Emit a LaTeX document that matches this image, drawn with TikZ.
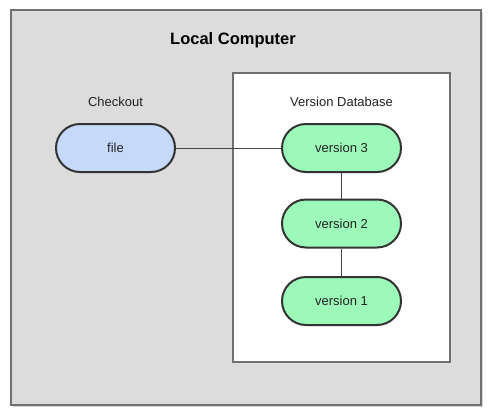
\documentclass[tikz,border=0pt]{standalone}
\usepackage{fontspec}
\setmainfont{Liberation Sans}
\definecolor{bggray}{HTML}{DCDCDC}
\definecolor{boxedge}{HTML}{707070}
\definecolor{nodeedge}{HTML}{333333}
\definecolor{fileblue}{HTML}{C6D9FB}
\definecolor{vgreen}{HTML}{9CF9B9}
\definecolor{txt}{HTML}{222222}
\tikzset{
  pill/.style={draw=nodeedge, line width=2pt, rounded corners=24pt,
    minimum width=119pt, minimum height=48pt, inner sep=0pt,
    font=\fontsize{13}{15}\selectfont, text=txt},
  lbl/.style={font=\fontsize{13}{15}\selectfont, text=txt, inner sep=0pt},
  link/.style={draw=nodeedge!90, line width=0.9pt}
}
\begin{document}
\begin{tikzpicture}[x=1pt,y=-1pt]
\useasboundingbox (0,0) rectangle (492,418);
\fill[white] (0,0) rectangle (492,418);
% outer box with faint shadow
\fill[black!15] (13,12) rectangle (483,407);
\draw[fill=bggray, draw=boxedge, line width=1.3pt] (11,10) rectangle (481,405);
\node[font=\bfseries\fontsize{16.5}{19}\selectfont, inner sep=0pt] (title) at (233,40) {Local Computer};
% inner box
\fill[black!12] (235,75) rectangle (452,364);
\draw[fill=white, draw=boxedge, line width=1.1pt] (233,73) rectangle (450,362);
\node[lbl] (checkout) at (115.5,102) {Checkout};
\node[lbl] (vdb) at (341.5,102) {Version Database};
\node[pill, fill=fileblue] (file) at (115.5,148) {file};
\node[pill, fill=vgreen] (v3) at (341.5,148) {version 3};
\node[pill, fill=vgreen] (v2) at (341.5,223.5) {version 2};
\node[pill, fill=vgreen] (v1) at (341.5,301) {version 1};
\draw[link] (file) -- (v3);
\draw[link] (v3) -- (v2);
\draw[link] (v2) -- (v1);
\end{tikzpicture}
\end{document}
